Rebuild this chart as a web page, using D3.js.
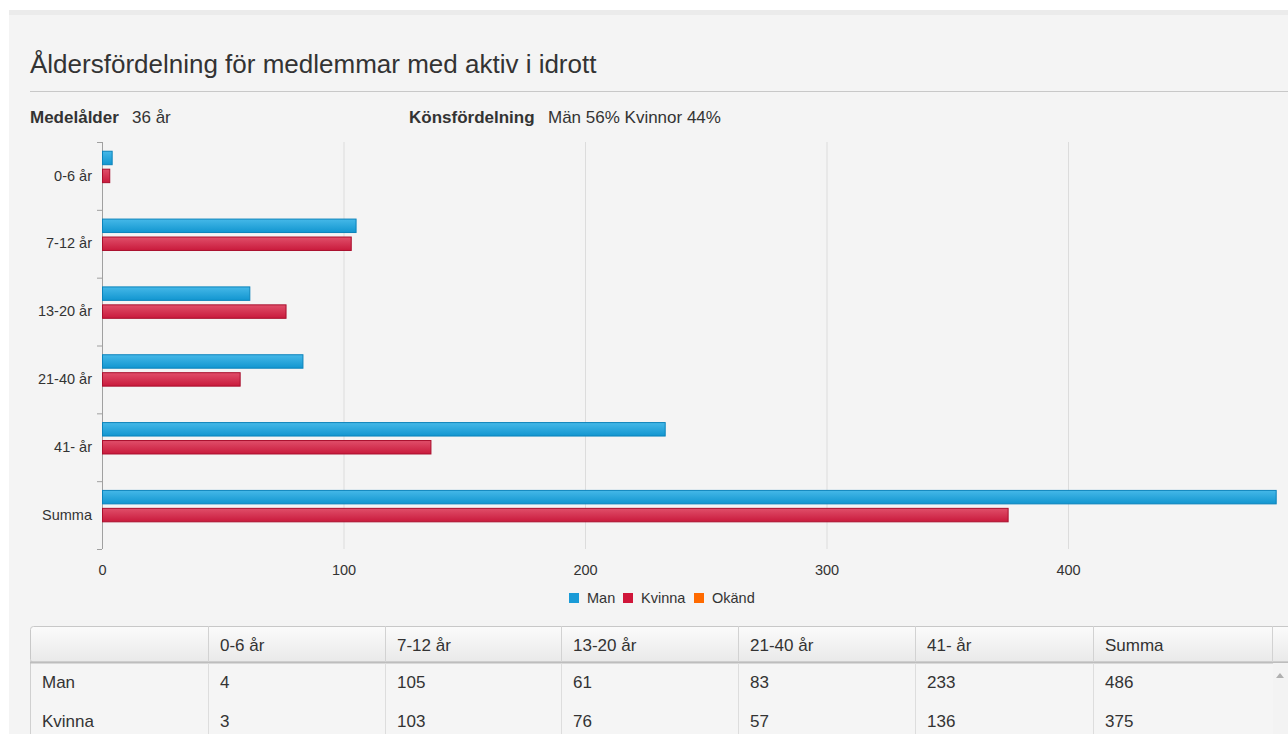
<!DOCTYPE html>
<html>
<head>
<meta charset="utf-8">
<script src="https://cdn.jsdelivr.net/npm/d3@7"></script>
<style>
  body { margin: 0; background: #fff; overflow: hidden; }
  svg text { font-family: "Liberation Sans", Arial, sans-serif; fill: #333; }
</style>
</head>
<body>
<div id="chart"></div>
<script>
var categories = ["0-6 år", "7-12 år", "13-20 år", "21-40 år", "41- år", "Summa"];
var seriesNames = ["Man", "Kvinna", "Okänd"];
var manValues = [4, 105, 61, 83, 233, 486];
var kvinnaValues = [3, 103, 76, 57, 136, 375];
var okandValues = [0, 0, 0, 0, 0, 0];
var xTicks = [0, 100, 200, 300, 400];

var colors = { "Man": "#1a9bd7", "Kvinna": "#d0163a", "Okänd": "#ff6a00" };
var seriesValues = { "Man": manValues, "Kvinna": kvinnaValues, "Okänd": okandValues };

var W = 1288, H = 734;
var svg = d3.select("#chart").append("svg")
    .attr("width", W).attr("height", H);

var defs = svg.append("defs");
function grad(id, c1, c2) {
  var g = defs.append("linearGradient").attr("id", id)
    .attr("x1", 0).attr("y1", 0).attr("x2", 0).attr("y2", 1);
  g.append("stop").attr("offset", "0%").attr("stop-color", c1);
  g.append("stop").attr("offset", "100%").attr("stop-color", c2);
}
grad("gMan", "#45b8e8", "#1296d0");
grad("gKvinna", "#e04f6a", "#c91a3c");
grad("gOkand", "#ff8a33", "#f06000");
grad("gHead", "#fbfbfb", "#e9e9e9");
var fills = { "Man": "url(#gMan)", "Kvinna": "url(#gKvinna)", "Okänd": "url(#gOkand)" };
var strokes = { "Man": "#0b83bb", "Kvinna": "#a90f2d", "Okänd": "#c85000" };

// panel
svg.append("rect").attr("x", 9).attr("y", 10).attr("width", W).attr("height", H)
  .attr("fill", "#f4f4f4");
svg.append("rect").attr("x", 9).attr("y", 10).attr("width", W).attr("height", 5)
  .attr("fill", "#ebebeb");

// title
svg.append("text").attr("x", 30).attr("y", 73)
  .style("font-size", "26px").text("Åldersfördelning för medlemmar med aktiv i idrott");
svg.append("line").attr("x1", 30).attr("x2", W).attr("y1", 91.5).attr("y2", 91.5)
  .attr("stroke", "#c8c8c8");

// stats
svg.append("text").attr("x", 30).attr("y", 123).style("font-size", "17px")
  .style("font-weight", "bold").text("Medelålder");
svg.append("text").attr("x", 132).attr("y", 123).style("font-size", "17px").text("36 år");
svg.append("text").attr("x", 409).attr("y", 123).style("font-size", "17px")
  .style("font-weight", "bold").text("Könsfördelning");
svg.append("text").attr("x", 548).attr("y", 123).style("font-size", "17px").text("Män 56% Kvinnor 44%");

// scales
var x = d3.scaleLinear().domain([0, 400]).range([102, 1068]);
var y = d3.scaleBand().domain(categories).range([142, 549]);
var inner = d3.scaleBand().domain(seriesNames).range([7, y.bandwidth() - 7])
  .paddingInner(0.25).paddingOuter(0.125);

// grid
svg.append("g").selectAll("line").data(xTicks.slice(1)).enter().append("line")
  .attr("x1", function(d) { return x(d) + 0.5; })
  .attr("x2", function(d) { return x(d) + 0.5; })
  .attr("y1", 142).attr("y2", 549)
  .attr("stroke", "#dcdcdc");

// x axis labels
var xAxis = svg.append("g").attr("transform", "translate(0,565)")
  .call(d3.axisBottom(x).tickValues(xTicks).tickSize(0).tickPadding(0));
xAxis.select(".domain").remove();
xAxis.selectAll("text").style("font-size", "14.5px").attr("fill", "#333")
  .attr("font-family", "Liberation Sans, Arial, sans-serif");

// y axis
var yAxis = svg.append("g").attr("transform", "translate(102,0)")
  .call(d3.axisLeft(y).tickSize(0).tickPadding(10));
yAxis.select(".domain").remove();
yAxis.selectAll("text").style("font-size", "14.5px").attr("fill", "#333")
  .attr("font-family", "Liberation Sans, Arial, sans-serif");
var bounds = categories.map(function(c) { return y(c); }).concat([549]);
svg.append("g").selectAll("line").data(bounds).enter().append("line")
  .attr("x1", 97).attr("x2", 102)
  .attr("y1", function(d) { return d + 0.5; }).attr("y2", function(d) { return d + 0.5; })
  .attr("stroke", "#a0a0a0");
svg.append("line").attr("x1", 102.5).attr("x2", 102.5).attr("y1", 142).attr("y2", 549)
  .attr("stroke", "#a0a0a0");

// bars
seriesNames.forEach(function(s) {
  var data = seriesValues[s].map(function(v, i) { return { cat: categories[i], value: v }; });
  svg.append("g").selectAll("rect").data(data.filter(function(d) { return d.value > 0; }))
    .enter().append("rect")
    .attr("x", x(0) + 0.5)
    .attr("y", function(d) { return y(d.cat) + inner(s); })
    .attr("width", function(d) { return x(d.value) - x(0); })
    .attr("height", inner.bandwidth())
    .attr("fill", fills[s])
    .attr("stroke", strokes[s]).attr("stroke-width", 1);
});

// legend
var legendX = [569, 623, 694];
var lg = svg.append("g").selectAll("g").data(seriesNames).enter().append("g")
  .attr("transform", function(d, i) { return "translate(" + legendX[i] + ",593)"; });
lg.append("rect").attr("width", 10).attr("height", 10)
  .attr("fill", function(d) { return colors[d]; });
lg.append("text").attr("x", 18).attr("y", 10).style("font-size", "14.5px")
  .text(function(d) { return d; });

// table
var colX = [30, 208, 385, 561, 738, 915, 1093, 1272];
var tTop = 626, tHead = 662, rowH = 38.5;
var table = svg.append("g");
table.append("rect").attr("x", 30.5).attr("y", tTop + 0.5).attr("width", 1300)
  .attr("height", tHead - tTop).attr("rx", 3)
  .attr("fill", "url(#gHead)").attr("stroke", "#c8c8c8");
table.append("rect").attr("x", 30.5).attr("y", tHead).attr("width", 1300)
  .attr("height", 200).attr("fill", "#f5f5f5").attr("stroke", "#d0d0d0");
table.append("line").attr("x1", 30).attr("x2", W).attr("y1", tHead + 0.5).attr("y2", tHead + 0.5)
  .attr("stroke", "#bdbdbd").attr("stroke-width", 2);
table.selectAll(".vh").data(colX.slice(1)).enter().append("line")
  .attr("x1", function(d) { return d + 0.5; }).attr("x2", function(d) { return d + 0.5; })
  .attr("y1", tTop).attr("y2", tHead).attr("stroke", "#d2d2d2");
table.selectAll(".vb").data(colX.slice(1, 7)).enter().append("line")
  .attr("x1", function(d) { return d + 0.5; }).attr("x2", function(d) { return d + 0.5; })
  .attr("y1", tHead + 1).attr("y2", H).attr("stroke", "#dddddd");
// scrollbar
table.append("rect").attr("x", 1273).attr("y", tHead + 1).attr("width", 20).attr("height", 80)
  .attr("fill", "#f3f3f3");
table.append("path").attr("d", "M1276,678 L1280,673 L1284,678 Z").attr("fill", "#b0b0b0");

table.selectAll(".th").data(categories).enter().append("text")
  .attr("x", function(d, i) { return colX[i + 1] + 12; }).attr("y", 651)
  .style("font-size", "17px").text(function(d) { return d; });

var rows = [["Man", manValues], ["Kvinna", kvinnaValues]];
rows.forEach(function(r, ri) {
  var yy = 688 + ri * rowH;
  table.append("text").attr("x", 42).attr("y", yy).style("font-size", "17px").text(r[0]);
  table.selectAll(".td" + ri).data(r[1]).enter().append("text")
    .attr("x", function(d, i) { return colX[i + 1] + 12; }).attr("y", yy)
    .style("font-size", "17px").text(function(d) { return d; });
});
</script>
</body>
</html>
